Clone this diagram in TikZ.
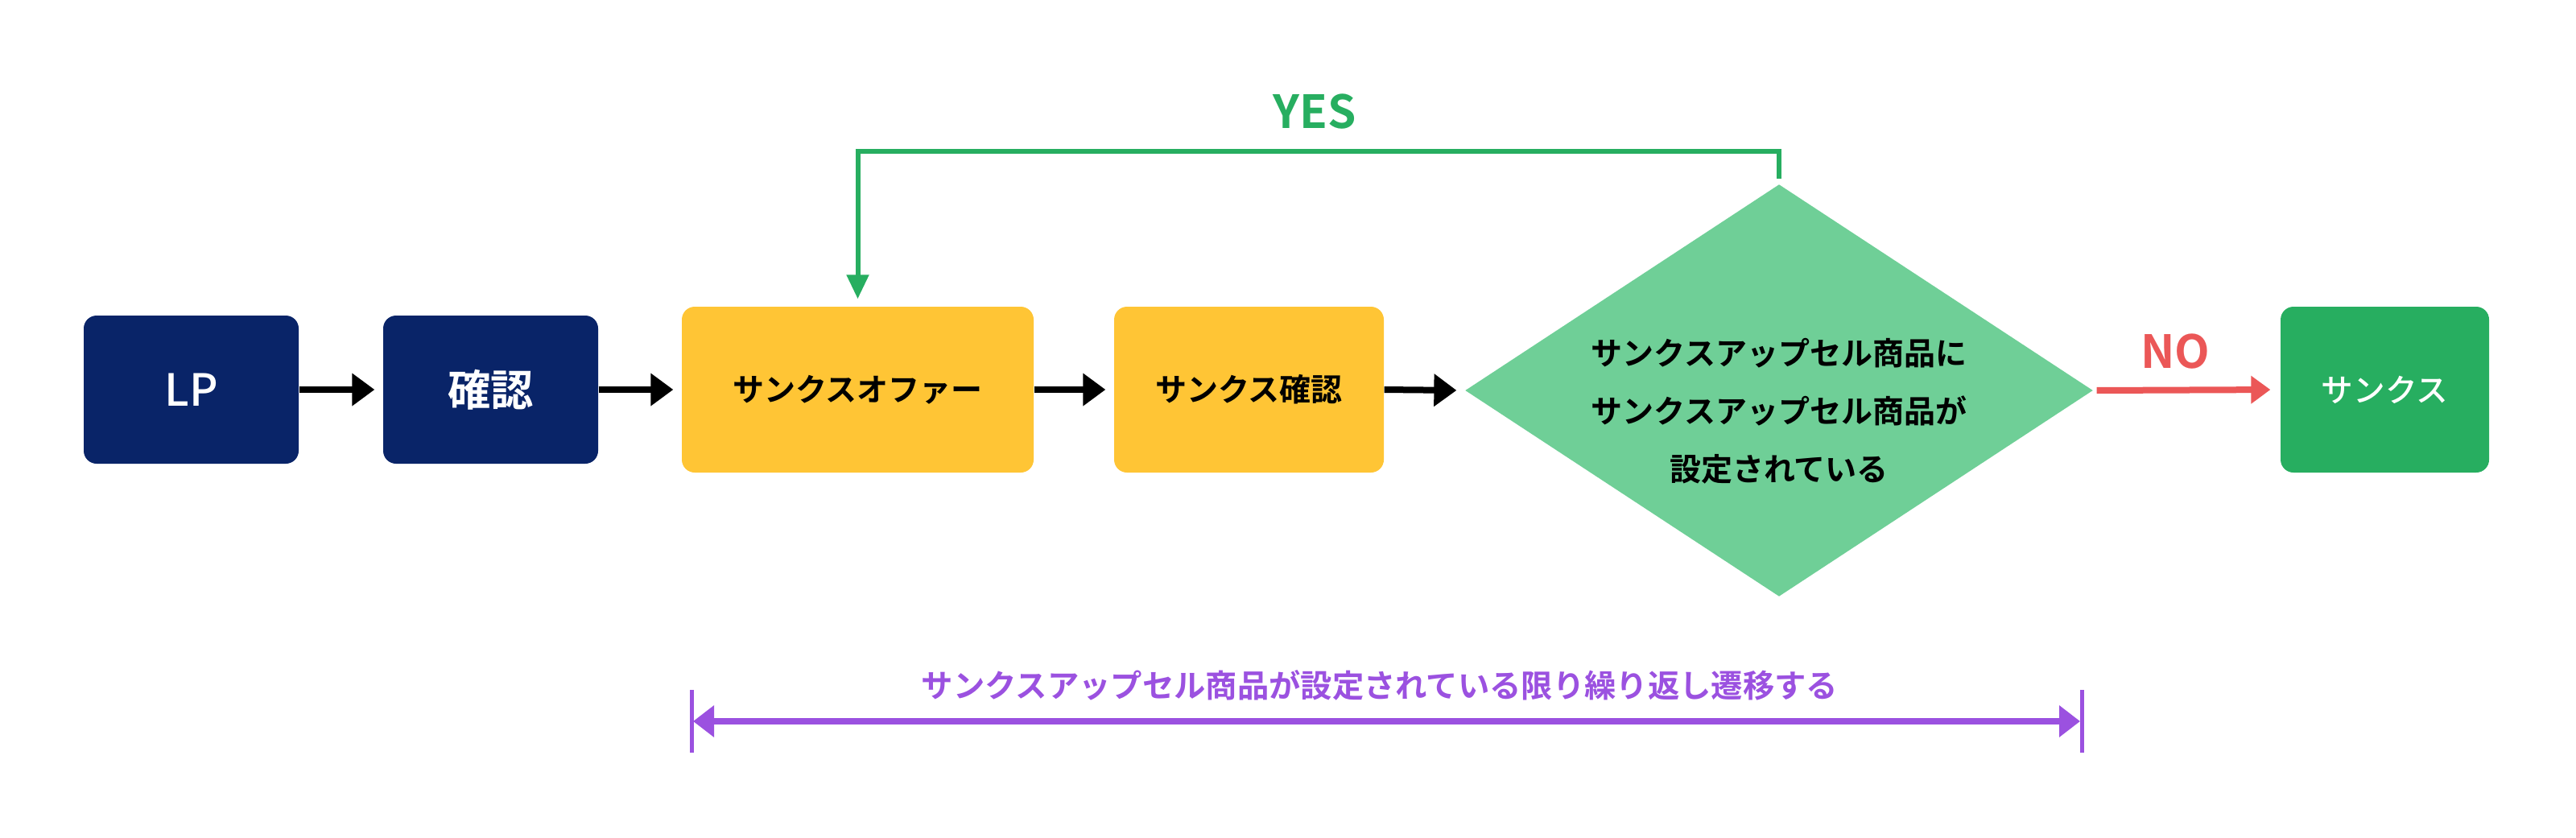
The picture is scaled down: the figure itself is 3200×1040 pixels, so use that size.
\documentclass[tikz,border=0pt]{standalone}
\usepackage{fontspec}
\setmainfont{Noto Sans CJK JP}[BoldFont={Noto Sans CJK JP Bold}]
\newfontfamily\jpmed{Noto Sans CJK JP Medium}
\usetikzlibrary{arrows.meta,shapes.geometric}
\definecolor{navy}{HTML}{092468}
\definecolor{yel}{HTML}{FFC535}
\definecolor{lgreen}{HTML}{6FCF97}
\definecolor{dgreen}{HTML}{27AE60}
\definecolor{nored}{HTML}{EB5757}
\definecolor{purp}{HTML}{9B51E0}
\begin{document}
\begin{tikzpicture}[x=0.3pt,y=-0.3pt,
  navybox/.style={rectangle, rounded corners=4.8pt, fill=navy, text=white,
    font=\bfseries\fontsize{16}{19}\selectfont, minimum width=80.1pt, minimum height=55.2pt, inner sep=0pt},
  ybox/.style={rectangle, rounded corners=4.8pt, fill=yel, text=black,
    font=\bfseries\fontsize{11.7}{14}\selectfont, minimum height=61.8pt, inner sep=0pt},
  gbox/.style={rectangle, rounded corners=4.8pt, fill=dgreen, text=white,
    font=\jpmed\fontsize{11.9}{14}\selectfont, minimum height=61.8pt, inner sep=0pt},
  decision/.style={diamond, fill=lgreen, minimum width=234pt, minimum height=153.6pt, inner sep=0pt},
  flow/.style={line width=2.4pt, -{Triangle[length=8.4pt,width=11.7pt]}, shorten >=3pt},
  noflow/.style={nored, line width=2.4pt, -{Triangle[length=7.2pt,width=10pt]}, shorten <=1.2pt, shorten >=3.6pt},
  yesflow/.style={dgreen, line width=1.8pt, -{Triangle[length=9pt,width=8pt]}, shorten >=2.7pt},
  span/.style={purp, line width=2.4pt, {Triangle[length=7.8pt,width=11.4pt]}-{Triangle[length=7.8pt,width=11.4pt]}},
  spanbar/.style={purp, line width=1.5pt},
  lbl/.style={font=\bfseries\fontsize{17}{20}\selectfont, inner sep=0pt}
]
\useasboundingbox (0,0) rectangle (3200,1040);

\node[navybox, font=\jpmed\fontsize{16.5}{19}\selectfont] (lp) at (237.5,484) {LP};
\node[navybox] (kakunin) at (609.5,484) {確認};
\node[ybox, minimum width=131.1pt] (offer) at (1065.5,484) {サンクスオファー};
\node[ybox, minimum width=100.5pt] (tkakunin) at (1551.5,484) {サンクス確認};
\node[decision] (dec) at (2210,485) {};
\node[align=center, font=\bfseries\fontsize{11.7}{21.6}\selectfont, inner sep=0pt] (dectext) at (2210,511)
  {サンクスアップセル商品に\\サンクスアップセル商品が\\設定されている};
\node[gbox, minimum width=77.7pt] (thanks) at (2962.5,484) {サンクス};

\draw[flow] (lp.east) -- (kakunin.west);
\draw[flow] (kakunin.east) -- (offer.west);
\draw[flow] (offer.east) -- (tkakunin.west);
\draw[flow] (tkakunin.east) -- (dec.west);

\draw[noflow] (dec.east) -- (thanks.west);
\node[lbl, text=nored] (nolbl) at (2702,437) {NO};

\coordinate (yesy) at (0,188);
\draw[yesflow] ([yshift=1.8pt]dec.north) -- (dec.north |- yesy) -| (offer.north);
\node[lbl, text=dgreen] (yeslbl) at (1633,139) {YES};

\coordinate (bl1) at (859,857);
\coordinate (bl2) at (859,935);
\coordinate (br1) at (2586,857);
\coordinate (br2) at (2586,935);
\coordinate (pl) at (861,896);
\coordinate (pr) at (2584,896);
\draw[spanbar] (bl1) -- (bl2);
\draw[spanbar] (br1) -- (br2);
\draw[span] (pl) -- (pr);
\node[text=purp, font=\bfseries\fontsize{11.8}{14}\selectfont, inner sep=0pt] (spantext) at (1714,851)
  {サンクスアップセル商品が設定されている限り繰り返し遷移する};
\end{tikzpicture}
\end{document}
